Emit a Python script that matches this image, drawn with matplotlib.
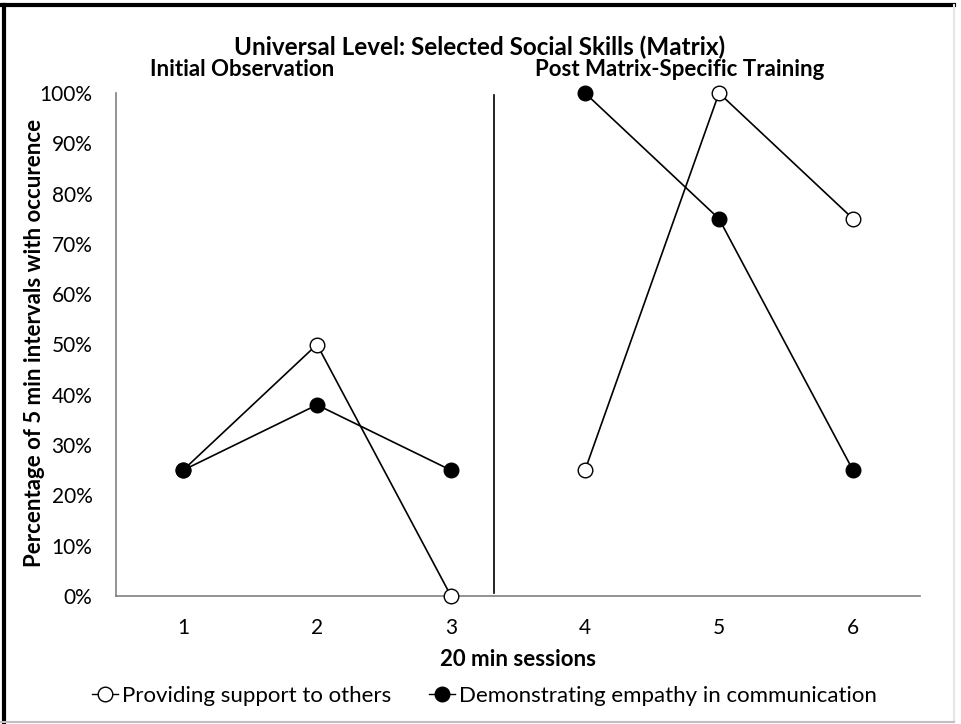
import matplotlib as mpl
import matplotlib.pyplot as plt
from matplotlib.lines import Line2D

mpl.rcParams['font.family'] = ['Lato', 'DejaVu Sans']

sessions_pre = [1, 2, 3]
sessions_post = [4, 5, 6]
support_pre = [25, 50, 0]
support_post = [25, 100, 75]
empathy_pre = [25, 38, 25]
empathy_post = [100, 75, 25]
phase_change = 3.32
y_ticks = [0, 10, 20, 30, 40, 50, 60, 70, 80, 90, 100]
x_ticks = [1, 2, 3, 4, 5, 6]

W, H = 961, 724
fig = plt.figure(figsize=(W / 100, H / 100), dpi=100)
ax = fig.add_axes([116 / W, 1 - 596 / H, (920 - 116) / W, (596 - 93) / H])

line_kw = dict(color='black', linewidth=1.2, markersize=10.5, markeredgewidth=1.0,
               markeredgecolor='black', clip_on=False, zorder=3)
ax.plot(sessions_pre, support_pre, marker='o', markerfacecolor='white', **line_kw)
ax.plot(sessions_post, support_post, marker='o', markerfacecolor='white', **line_kw)
ax.plot(sessions_pre, empathy_pre, marker='o', markerfacecolor='black', **line_kw)
ax.plot(sessions_post, empathy_post, marker='o', markerfacecolor='black', **line_kw)

ax.axvline(phase_change, ymin=0.006, ymax=0.996, color='black', linewidth=1.2)

ax.set_xlim(0.5, 6.5)
ax.set_ylim(0, 100)
ax.set_yticks(y_ticks)
ax.set_yticklabels(['%d%%' % v for v in y_ticks])
ax.set_xticks(x_ticks)
for s in ['top', 'right']:
    ax.spines[s].set_visible(False)
for s in ['left', 'bottom']:
    ax.spines[s].set_color('#808080')
    ax.spines[s].set_linewidth(1.2)
ax.tick_params(axis='both', length=0, labelsize=15, colors='black')
ax.tick_params(axis='y', pad=17)
ax.tick_params(axis='x', pad=16)

# axis titles
fig.text(518 / W, 1 - 660 / H, '20 min sessions', ha='center', va='center',
         fontsize=16, fontweight='bold')
fig.text(35 / W, 1 - 343 / H, 'Percentage of 5 min intervals with occurence',
         ha='center', va='center', rotation=90, fontsize=16, fontweight='bold')

fig.text(480 / W, 1 - 47 / H, 'Universal Level: Selected Social Skills (Matrix)',
         ha='center', va='center', fontsize=17.5, fontweight='bold')
fig.text(242 / W, 1 - 69 / H, 'Initial Observation', ha='center', va='center',
         fontsize=16, fontweight='bold')
fig.text(680 / W, 1 - 69 / H, 'Post Matrix-Specific Training', ha='center',
         va='center', fontsize=16, fontweight='bold')

handles = [
    Line2D([], [], color='black', linewidth=1.0, marker='o', markerfacecolor='white',
           markeredgecolor='black', markersize=10.5),
    Line2D([], [], color='black', linewidth=1.0, marker='o', markerfacecolor='black',
           markeredgecolor='black', markersize=10.5),
]
fig.legend(handles, ['Providing support to others', 'Demonstrating empathy in communication'],
           loc='center', bbox_to_anchor=(484 / W, 1 - 696 / H), ncol=2, frameon=False,
           fontsize=16, handlelength=1.2, handletextpad=0.15, columnspacing=1.7,
           borderpad=0, borderaxespad=0)

# chart border
fig.add_artist(Line2D([0, 954 / W], [1 - 5 / H, 1 - 5 / H], color='black', linewidth=3))
fig.add_artist(Line2D([4 / W, 4 / W], [1 - 722 / H, 1 - 5 / H], color='black', linewidth=3))
fig.add_artist(Line2D([954 / W, 954 / W], [1 - 722 / H, 1 - 5 / H], color='#e6e6e6', linewidth=1.5))
fig.add_artist(Line2D([0, 954 / W], [1 - 722 / H, 1 - 722 / H], color='#bfbfbf', linewidth=1.5))

fig.savefig('out.png', dpi=100)
